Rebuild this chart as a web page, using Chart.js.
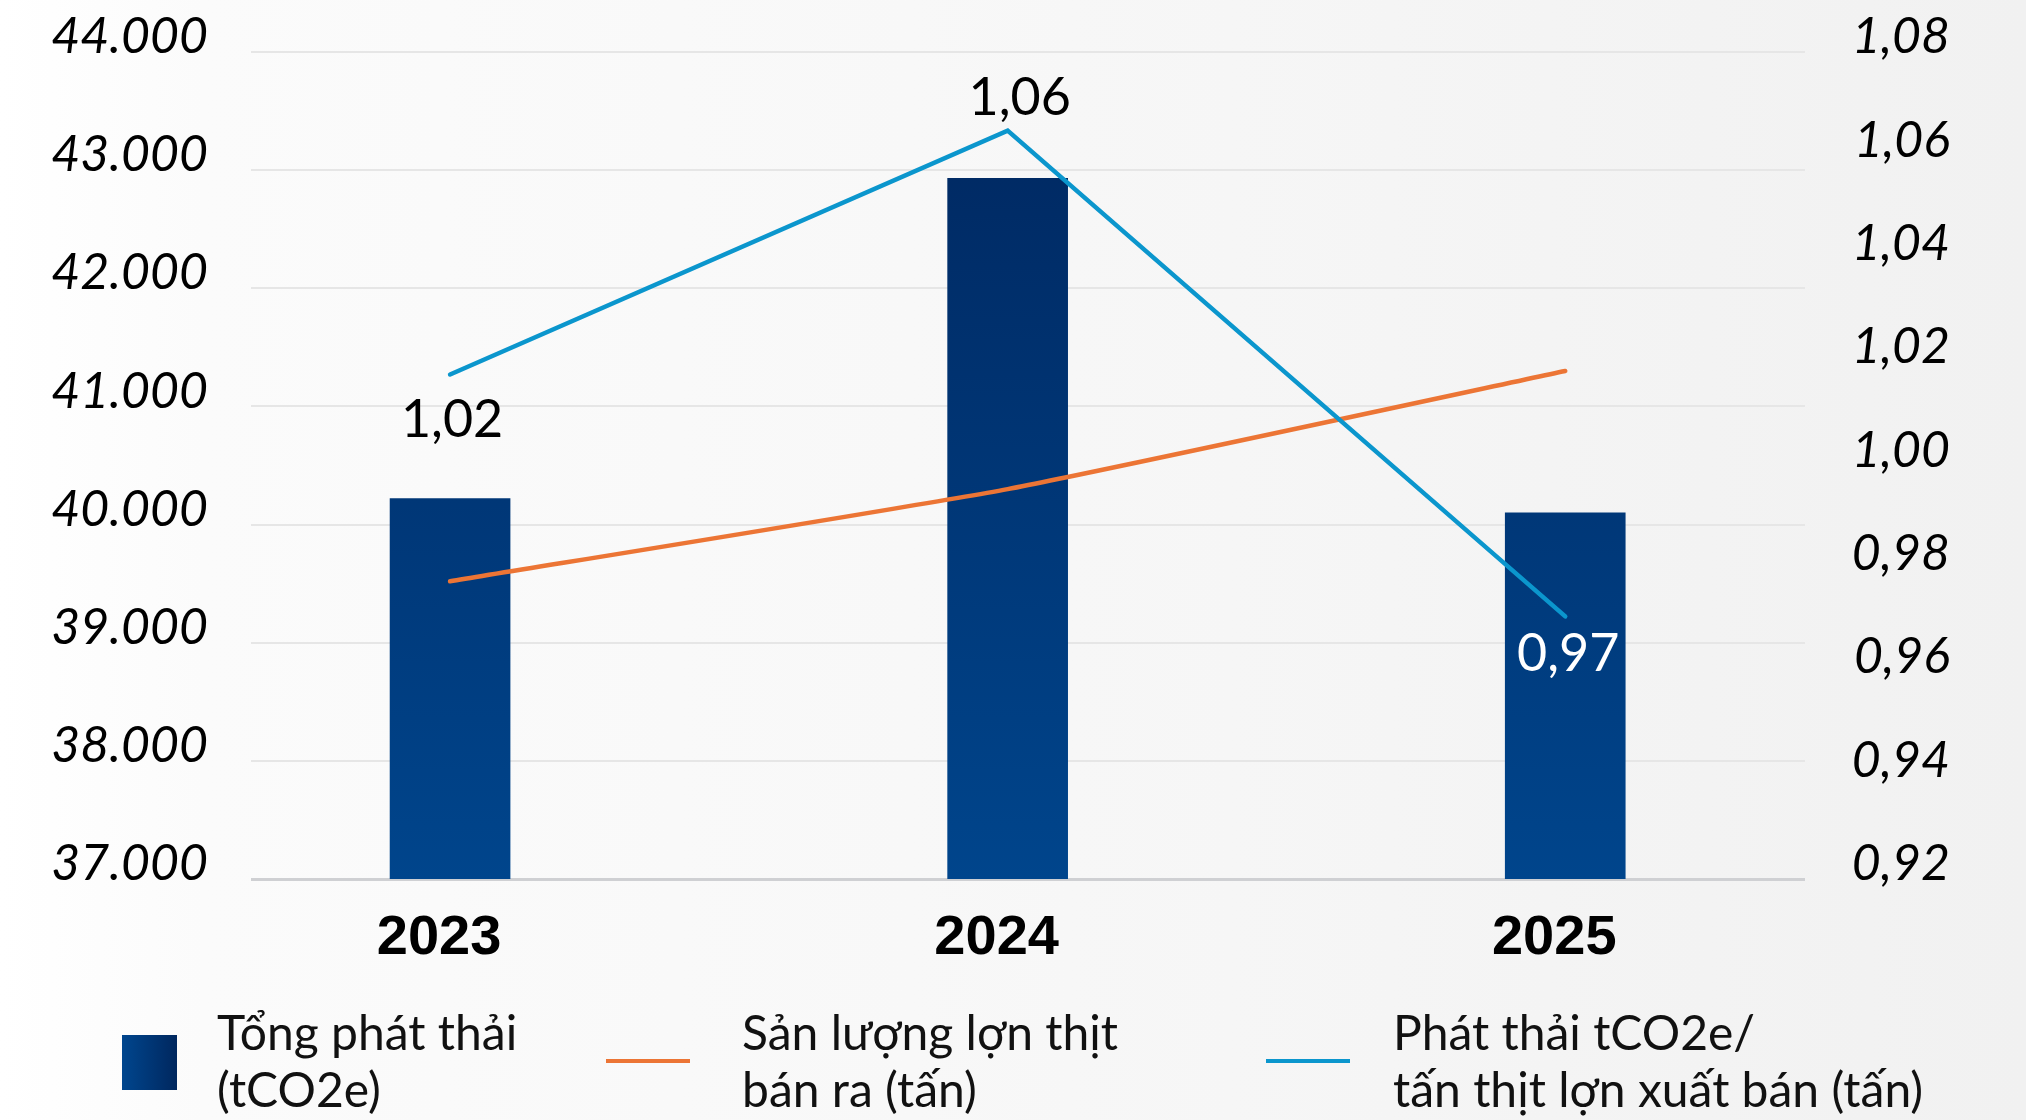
<!DOCTYPE html>
<html lang="vi">
<head>
<meta charset="UTF-8">
<title>Phát thải</title>
<script src="https://cdn.jsdelivr.net/npm/chart.js"></script>
<style>
  html, body { margin: 0; padding: 0; }
  body {
    width: 2026px; height: 1120px; overflow: hidden;
    background: linear-gradient(to right, #ffffff 0%, #fbfbfb 10%, #f8f8f8 45%, #f1f1f1 100%);
    font-family: Lato, "Noto Sans", sans-serif;
  }
  #wrap { position: relative; width: 2026px; height: 1120px; }
  #chart { position: absolute; left: 0; top: 0; }
  .sw { position: absolute; }
  .txt { position: absolute; top: 1003px; font-size: 48px; line-height: 57px; color: #111; white-space: nowrap; }
</style>
</head>
<body>
<div id="wrap">
  <canvas id="chart" width="2026" height="1120"></canvas>

  <!-- chú thích -->
  <div class="sw" style="left:122px; top:1035px; width:55px; height:55px; background:linear-gradient(to right,#00468e,#00275e);"></div>
  <div class="txt" style="left:217px;">Tổng phát thải<br>(tCO2e)</div>
  <div class="sw" style="left:606px; top:1059px; width:84px; height:4px; background:#ec7535;"></div>
  <div class="txt" style="left:742px;">Sản lượng lợn thịt<br>bán ra (tấn)</div>
  <div class="sw" style="left:1266px; top:1059px; width:84px; height:4px; background:#0b96cd;"></div>
  <div class="txt" style="left:1393px;">Phát thải tCO2e/<br>tấn thịt lợn xuất bán (tấn)</div>
</div>

<script>
  const categories = ['2023', '2024', '2025'];
  const emissions = [40220, 42930, 40100];     // Tổng phát thải (tCO2e)
  const porkSold = [39520, 40300, 41300];      // Sản lượng lợn thịt bán ra (tấn)
  const intensity = [1.0176, 1.0648, 0.9708];  // tCO2e / tấn thịt lợn
  const leftRange = [37000, 44000, 1000];
  const rightRange = [0.92, 1.08, 0.02];

  const toPoints = arr => arr.map((v, i) => ({ x: i, y: v }));
  const fmt2 = v => v.toFixed(2).replace('.', ',');
  const fmtThousand = v => String(Math.round(v)).replace(/\B(?=(\d{3})+(?!\d))/g, '.');
  const noPad = s => { s.paddingTop = 0; s.paddingBottom = 0; s.paddingLeft = 0; s.paddingRight = 0; };

  function barGradient(ctx) {
    const area = ctx.chart.chartArea;
    if (!area) return '#003a80';
    const g = ctx.chart.ctx.createLinearGradient(0, area.top, 0, area.bottom);
    g.addColorStop(0, '#00265e');
    g.addColorStop(1, '#00458c');
    return g;
  }

  // nhãn giá trị cho đường tCO2e/tấn
  const valueLabels = {
    id: 'valueLabels',
    afterDatasetsDraw(chart, args, opts) {
      const meta = chart.getDatasetMeta(opts.datasetIndex);
      const ds = chart.data.datasets[opts.datasetIndex];
      const c = chart.ctx;
      c.save();
      c.font = opts.font;
      c.textAlign = 'center';
      c.textBaseline = 'alphabetic';
      meta.data.forEach((pt, i) => {
        c.fillStyle = opts.colors[i];
        c.fillText(fmt2(ds.data[i].y), pt.x + opts.dx[i], pt.y + opts.dy[i]);
      });
      c.restore();
    }
  };

  new Chart(document.getElementById('chart'), {
    type: 'bar',
    data: {
      datasets: [
        {
          type: 'line',
          label: 'Phát thải tCO2e/tấn thịt lợn xuất bán (tấn)',
          data: toPoints(intensity),
          yAxisID: 'y1',
          order: 0,
          borderColor: '#0b96cd',
          borderWidth: 4.5,
          borderCapStyle: 'round',
          pointRadius: 0,
          tension: 0
        },
        {
          type: 'line',
          label: 'Sản lượng lợn thịt bán ra (tấn)',
          data: toPoints(porkSold),
          yAxisID: 'y',
          order: 1,
          borderColor: '#ec7535',
          borderWidth: 4.5,
          borderCapStyle: 'round',
          pointRadius: 0,
          tension: 0.15
        },
        {
          label: 'Tổng phát thải (tCO2e)',
          data: toPoints(emissions),
          yAxisID: 'y',
          order: 2,
          backgroundColor: barGradient,
          borderWidth: 0,
          barThickness: 120
        }
      ]
    },
    options: {
      responsive: false,
      animation: false,
      layout: { padding: { top: 52, right: 76, left: 0, bottom: 0 } },
      plugins: {
        legend: { display: false },
        tooltip: { enabled: false },
        valueLabels: {
          datasetIndex: 0,
          font: '400 52px Lato, "Noto Sans", sans-serif',
          colors: ['#000000', '#000000', '#ffffff'],
          dx: [2, 12, 3],
          dy: [62, -16, 55]
        }
      },
      scales: {
        x: {
          type: 'linear',
          offset: false,
          min: -0.357,
          max: 2.43,
          afterBuildTicks: s => { s.ticks = categories.map((_, i) => ({ value: i })); },
          afterFit: s => { noPad(s); s.height = 241; },
          grid: { display: false },
          border: { display: false },
          ticks: {
            callback: v => categories[v],
            font: { family: '"Liberation Sans", Arial, sans-serif', size: 56, weight: 'bold' },
            color: '#000',
            padding: 18,
            labelOffset: -11,
            maxRotation: 0,
            autoSkip: false
          }
        },
        y: {
          position: 'left',
          min: leftRange[0],
          max: leftRange[1],
          afterFit: s => { noPad(s); s.width = 251; },
          border: { display: false },
          grid: {
            drawTicks: false,
            color: c => c.tick.value === leftRange[0] ? '#cfd0d3' : '#e6e6e6',
            lineWidth: c => c.tick.value === leftRange[0] ? 3 : 2
          },
          ticks: {
            stepSize: leftRange[2],
            padding: 43,
            labelOffset: -15,
            color: '#000',
            font: { family: 'Lato, sans-serif', size: 50, style: 'italic', weight: 400 },
            callback: v => fmtThousand(v)
          }
        },
        y1: {
          position: 'right',
          min: rightRange[0],
          max: rightRange[1],
          afterFit: s => { noPad(s); s.width = 145; },
          border: { display: false },
          grid: { display: false },
          ticks: {
            stepSize: rightRange[2],
            crossAlign: 'far',
            labelOffset: -15,
            color: '#000',
            font: { family: 'Lato, sans-serif', size: 50, style: 'italic', weight: 400 },
            callback: v => fmt2(v)
          }
        }
      }
    },
    plugins: [valueLabels]
  });
</script>
</body>
</html>
